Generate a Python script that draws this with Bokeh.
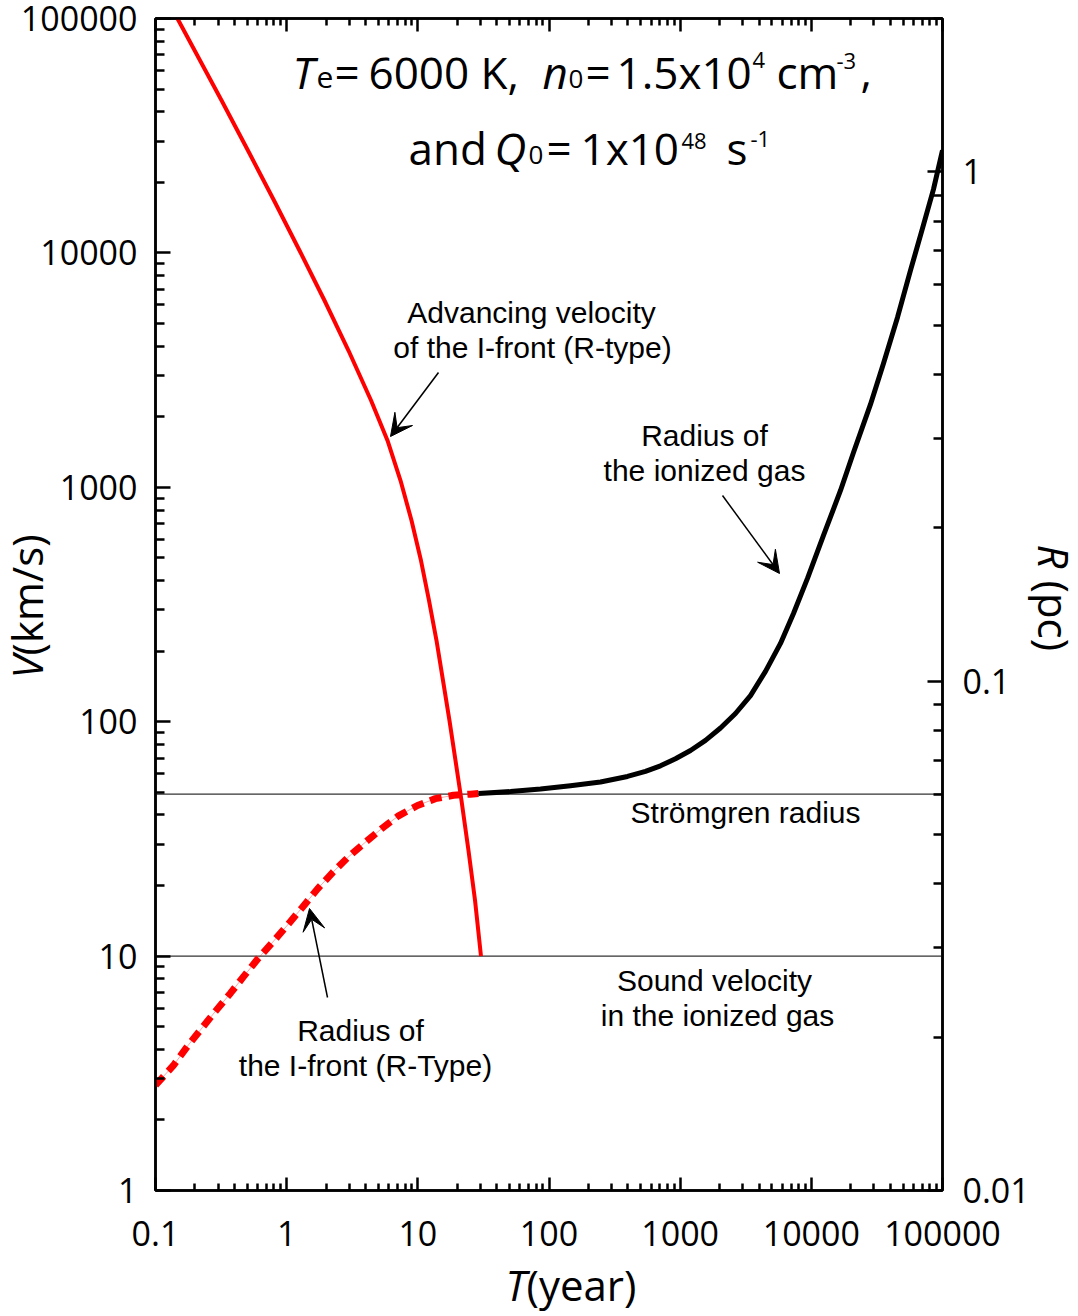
import math

from bokeh.plotting import figure
from bokeh.core.properties import value
from bokeh.models import (Range1d, LogScale, LogAxis, FixedTicker, CustomJSTickFormatter,
                          Span, Label, Arrow, VeeHead)
from bokeh.embed import file_html
from bokeh.resources import INLINE

# ---- data -------------------------------------------------------------
# advancing velocity of the R-type ionization front  (T in years, V in km/s)
vel_t = [0.147, 0.319, 0.507, 0.801, 1.253, 1.943, 2.96, 4.40, 5.87, 7.38, 8.95,
         10.57, 12.16, 13.88, 15.55, 17.43, 19.37, 21.52, 24.33, 27.29, 30.3]
vel_v = [100000, 44690, 27350, 16730, 10240, 6266, 3833, 2346, 1584, 1069, 722,
         487, 329, 222, 150, 101, 68.3, 46.1, 28.2, 17.3, 10.0]

# radius of the R-type ionization front  (T in years, R in pc)
front_t = [0.1, 0.137, 0.178, 0.228, 0.287, 0.373, 0.469, 0.61, 0.78, 1.015, 1.32,
           1.72, 2.24, 2.96, 3.99, 5.38, 7.12, 9.94, 13.6, 18.7, 25.2, 29.0]
front_r = [0.0161, 0.0176, 0.0193, 0.0209, 0.0225, 0.0244, 0.0263, 0.0286, 0.0307,
           0.0332, 0.0360, 0.0391, 0.0421, 0.0452, 0.0483, 0.0515, 0.0544, 0.0570,
           0.0588, 0.0597, 0.0600, 0.0602]

# radius of the expanding ionized gas  (T in years, R in pc)
gas_t = [29.0, 50.9, 86.1, 145.8, 246.9, 396.7, 543.9, 707.9, 921.1, 1199, 1560,
         2030, 2641, 3437, 4472, 5819, 7310, 9346, 12380, 16690, 20960, 28240,
         35480, 45370, 57010, 70370, 85330, 100000]
gas_r = [0.0602, 0.0607, 0.0614, 0.0623, 0.0634, 0.0650, 0.0665, 0.0682, 0.0704,
         0.0731, 0.0765, 0.0809, 0.0864, 0.0937, 0.1045, 0.1186, 0.1358, 0.1591,
         0.1932, 0.2368, 0.2812, 0.3494, 0.4206, 0.5178, 0.6403, 0.7744, 0.9237,
         1.102]

stromgren_r = 0.06      # pc
sound_v = 10.0          # km/s

t_major = [0.1, 1, 10, 100, 1000, 10000, 100000]
v_major = [1, 10, 100, 1000, 10000, 100000]
r_major = [0.01, 0.1, 1]
t_minor = [k * 10.0 ** d for d in range(-1, 5) for k in range(2, 10)]
v_minor = [k * 10.0 ** d for d in range(0, 5) for k in range(2, 10)]
r_minor = [k * 10.0 ** d for d in range(-2, 1) for k in range(2, 10) if k * 10.0 ** d <= 2.0]

# ---- figure -----------------------------------------------------------
W, H = 1078, 1316
FX0, FX1, FY0, FY1 = 155, 942, 18, 1190        # frame edges on the canvas

p = figure(width=W, height=H, x_axis_type="log", y_axis_type="log",
           x_range=Range1d(0.1, 1e5), y_range=Range1d(1, 1e5),
           output_backend="svg", toolbar_location=None,
           min_border_left=FX0, min_border_right=W - FX1,
           min_border_top=FY0, min_border_bottom=H - FY1)
p.extra_y_ranges = {"r": Range1d(0.01, 2.0)}
p.extra_y_scales = {"r": LogScale()}
p.grid.visible = False
p.background_fill_color = "white"
p.border_fill_color = "white"
p.outline_line_color = "black"
p.outline_line_width = 2.5

SANS = "Open Sans"
fmt = CustomJSTickFormatter(code="return tick.toString()")
blank = CustomJSTickFormatter(code="return ''")


def style_axis(ax, major_in, minor_in, standoff, labels=True):
    ax.axis_label = None
    ax.axis_line_width = 2.5
    ax.axis_line_color = "black"
    ax.major_tick_in = major_in
    ax.major_tick_out = 0
    ax.minor_tick_in = minor_in
    ax.minor_tick_out = 0
    ax.major_tick_line_width = 2.5
    ax.minor_tick_line_width = 2.5
    ax.major_tick_line_color = "black"
    ax.minor_tick_line_color = "black"
    ax.major_label_standoff = standoff
    ax.major_label_text_font = SANS
    ax.major_label_text_font_size = "34px"
    if labels:
        ax.formatter = fmt
        ax.major_label_text_color = "black"
    else:
        ax.formatter = blank
        ax.major_label_text_color = None


xb = p.xaxis[0]
xb.ticker = FixedTicker(ticks=t_major, minor_ticks=t_minor)
style_axis(xb, 13, 7, 30)

yl = p.yaxis[0]
yl.ticker = FixedTicker(ticks=v_major, minor_ticks=v_minor)
style_axis(yl, 15, 9, 18)

yr = LogAxis(y_range_name="r", ticker=FixedTicker(ticks=r_major, minor_ticks=r_minor))
style_axis(yr, 15, 9, 20)
p.add_layout(yr, "right")

xt = LogAxis(ticker=FixedTicker(ticks=t_major, minor_ticks=t_minor))
style_axis(xt, 13, 7, 0, labels=False)
p.add_layout(xt, "above")

# reference levels
p.add_layout(Span(location=sound_v, dimension="width", line_color="#333333",
                  line_width=1.2, level="underlay"))
p.add_layout(Span(location=stromgren_r, dimension="width", y_range_name="r",
                  line_color="#333333", line_width=1.2, level="underlay"))

# curves
p.line(front_t, front_r, y_range_name="r", line_color="red", line_width=1, line_alpha=0.35)
p.line(front_t, front_r, y_range_name="r", line_color="red", line_width=7,
       line_dash="12 7")
p.line(gas_t, gas_r, y_range_name="r", line_color="black", line_width=5,
       line_join="round")
p.line(vel_t, vel_v, line_color="red", line_width=4, line_join="round")


# ---- text ---------------------------------------------------------------
BASE_ADJ = 0.43   # em offset between the requested and the drawn alphabetic baseline


def tx(px):
    return 10 ** (-1 + 6 * (px - FX0) / (FX1 - FX0))


def vy(py):
    return 10 ** (5 * (FY1 - py) / (FY1 - FY0))


def put(text, px, py, size, font=SANS, italic=False, align="left"):
    p.add_layout(Label(x=tx(px), y=vy(py - BASE_ADJ * size), text=text, text_font=font,
                       text_font_size=f"{size}px",
                       text_font_style="italic" if italic else "normal",
                       text_align=align, text_baseline="alphabetic",
                       text_color="black"))


def put_outside(text, px, py, size, italic=False, align="left", angle=0.0):
    # axis titles sit in the borders, so they are drawn on the overlay level
    dx = BASE_ADJ * size * math.sin(angle)
    dy = BASE_ADJ * size * math.cos(angle)
    p.text(x=[tx(px - dx)], y=[vy(py - dy)], text=[text], angle=angle,
           text_font=value(SANS), text_font_size=value(f"{size}px"),
           text_font_style="italic" if italic else "normal",
           text_align=align, text_baseline="alphabetic",
           text_color="black", level="overlay")


# parameter block
put("T", 292, 90, 44, italic=True)
put("e", 316, 90, 30)
put("=", 334, 90, 44)
put("6000 K,", 368, 90, 44)
put("n", 542, 90, 44, italic=True)
put("0", 568, 90, 26)
put("=", 585, 90, 44)
put("1.5x10", 616, 90, 44)
put("4", 752, 69, 22)
put("cm", 776, 90, 44)
put("-3", 836, 70, 22)
put(",", 860, 90, 44)

put("and", 408, 166, 44)
put("Q", 494, 166, 44, italic=True)
put("0", 528, 166, 26)
put("=", 546, 166, 44)
put("1x10", 580, 166, 44)
put("48", 681, 150, 22)
put("s", 726, 166, 44)
put("-1", 750, 148, 22)

# axis titles
put_outside("V", 44, 655, 42, italic=True, align="right", angle=math.pi / 2)
put_outside("(km/s)", 44, 655, 42, angle=math.pi / 2)
put_outside("T", 526, 1302, 42, italic=True, align="right")
put_outside("(year)", 526, 1302, 42)
put_outside("R", 1036, 568, 42, italic=True, align="right", angle=-math.pi / 2)
put_outside("(pc)", 1036, 580, 42, angle=-math.pi / 2)

# curve annotations
NOTE_FONT = "Liberation Sans"
for txt, cx, by in [("Advancing velocity", 531, 325),
                    ("of the I-front (R-type)", 532, 360),
                    ("Radius of", 704, 448),
                    ("the ionized gas", 704, 483),
                    ("Strömgren radius", 745, 825),
                    ("Sound velocity", 714, 993),
                    ("in the ionized gas", 717, 1028),
                    ("Radius of", 360, 1043),
                    ("the I-front (R-Type)", 365, 1078)]:
    put(txt, cx, by, 30, font=NOTE_FONT, align="center")

for (x0, y0, x1, y1) in [(438, 372, 390, 436), (722, 495, 779, 573), (327, 997, 309, 908)]:
    p.add_layout(Arrow(x_start=tx(x0), y_start=vy(y0), x_end=tx(x1), y_end=vy(y1),
                       line_color="black", line_width=1.5,
                       end=VeeHead(size=22, fill_color="black", line_color="black",
                                   line_width=1)))

open("out.html", "w").write(file_html(p, INLINE))
